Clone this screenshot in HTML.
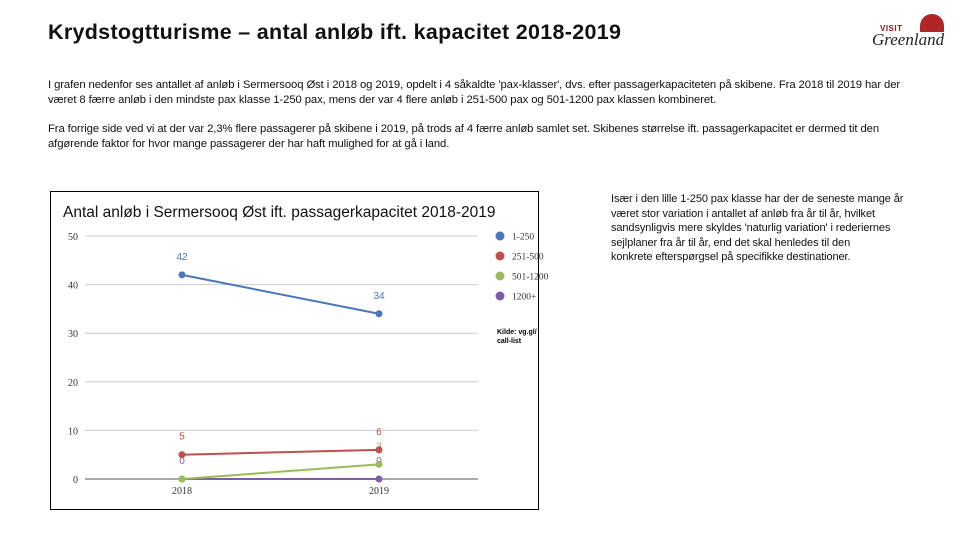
<!DOCTYPE html>
<html><head><meta charset="utf-8">
<style>
body{margin:0;width:960px;height:540px;background:#fff;position:relative;overflow:hidden;font-family:"Liberation Sans",sans-serif;color:#111}
h1{position:absolute;left:48px;top:20px;margin:0;font-size:21.5px;font-weight:bold;letter-spacing:0.3px}
.p{position:absolute;font-size:11.3px;line-height:14.6px;left:48px;white-space:nowrap;letter-spacing:-0.1px}
</style></head><body>
<h1>Krydstogtturisme – antal anløb ift. kapacitet 2018-2019</h1>
<div style="position:absolute;left:872px;top:14px;width:80px;height:40px">
<span style="position:absolute;left:8px;top:10px;font-size:8px;font-weight:bold;color:#8a1a1a;letter-spacing:0.5px">VISIT</span>
<span style="position:absolute;left:0;top:16px;font-size:17px;font-family:'Liberation Serif',serif;font-style:italic;color:#222">Greenland</span>
<div style="position:absolute;left:48px;top:0;width:24px;height:18px;border-radius:12px 12px 0 0;background:#b02525"></div>
</div>
<div class="p" style="top:78px">I grafen nedenfor ses antallet af anløb i Sermersooq Øst i 2018 og 2019, opdelt i 4 såkaldte 'pax-klasser', dvs. efter passagerkapaciteten på skibene. Fra 2018 til 2019 har der<br>været 8 færre anløb i den mindste pax klasse 1-250 pax, mens der var 4 flere anløb i 251-500 pax og 501-1200 pax klassen kombineret.</div>
<div class="p" style="top:122px">Fra forrige side ved vi at der var 2,3% flere passagerer på skibene i 2019, på trods af 4 færre anløb samlet set. Skibenes størrelse ift. passagerkapacitet er dermed tit den<br>afgørende faktor for hvor mange passagerer der har haft mulighed for at gå i land.</div>
<div class="p" style="left:611px;top:192px;font-size:11px">Især i den lille 1-250 pax klasse har der de seneste mange år<br>været stor variation i antallet af anløb fra år til år, hvilket<br>sandsynligvis mere skyldes 'naturlig variation' i rederiernes<br>sejlplaner fra år til år, end det skal henledes til den<br>konkrete efterspørgsel på specifikke destinationer.</div>
<svg id="chart" width="960" height="540" style="position:absolute;left:0;top:0">
<rect x="50.5" y="191.5" width="488" height="318" fill="#fff" stroke="#000" stroke-width="1"/>
<text x="63" y="217" font-size="15.5" fill="#111">Antal anløb i Sermersooq Øst ift. passagerkapacitet 2018-2019</text>
<g id="grid"></g><g id="marks"></g>
<text x="497" y="334" font-size="7" font-weight="bold">Kilde: vg.gl/</text>
<text x="497" y="343" font-size="7" font-weight="bold">call-list</text>
</svg>
<script>
const categories=["2018","2019"];
const seriesNames=["1-250","251-500","501-1200","1200+"];
const s1=[42,34];
const s2=[5,6];
const s3=[0,3];
const s4=[0,0];
const yTicks=[0,10,20,30,40,50];
const colors=["#4a76be","#c0504d","#9bbb59","#7b5ea7"];
const NS="http://www.w3.org/2000/svg";
const x=i=>182+i*197;
const y=v=>479-v*(243/50);
function mk(tag,attrs,parent){const e=document.createElementNS(NS,tag);for(const k in attrs)e.setAttribute(k,attrs[k]);parent.appendChild(e);return e;}
const grid=document.getElementById('grid'),marks=document.getElementById('marks');
yTicks.forEach(t=>{
 const l=mk('line',{x1:85,x2:478,y1:y(t),y2:y(t),stroke:t===0?'#555':'#ccc','stroke-width':1},grid);
 
 
 const tx=mk('text',{x:78,y:y(t)+4,'font-size':10,'text-anchor':'end','font-family':'Liberation Serif,serif',fill:'#333'},grid);
 tx.textContent=t;
 
 
});
categories.forEach((c,i)=>{
 const tx=mk('text',{x:x(i),y:494,'font-size':10,'text-anchor':'middle','font-family':'Liberation Serif,serif',fill:'#333'},grid);
 tx.textContent=c;
 
 
});
const all=[s1,s2,s3,s4];
[3,2,1,0].forEach(si=>{
 const d=all[si];
 const pl=mk('polyline',{points:d.map((v,i)=>x(i)+','+y(v)).join(' '),fill:'none',stroke:colors[si],'stroke-width':2},marks);
 
 
 d.forEach((v,i)=>{
  const c=mk('circle',{cx:x(i),cy:y(v),r:3.5,fill:colors[si]},marks);
  
  
  if(si===2&&v===0)return;
  const lt=mk('text',{x:x(i),y:y(v)-15,'font-size':10,'text-anchor':'middle',fill:colors[si]},marks);
  lt.textContent=v;
  
  
 });
});
seriesNames.forEach((n,i)=>{
 const c=mk('circle',{cx:500,cy:236+i*20,r:4.5,fill:colors[i]},marks);
 
 
 const t=mk('text',{x:512,y:239.5+i*20,'font-size':9.5,'font-family':'Liberation Serif,serif',fill:'#333'},marks);
 t.textContent=n;
 
 
});
</script>
</body></html>
